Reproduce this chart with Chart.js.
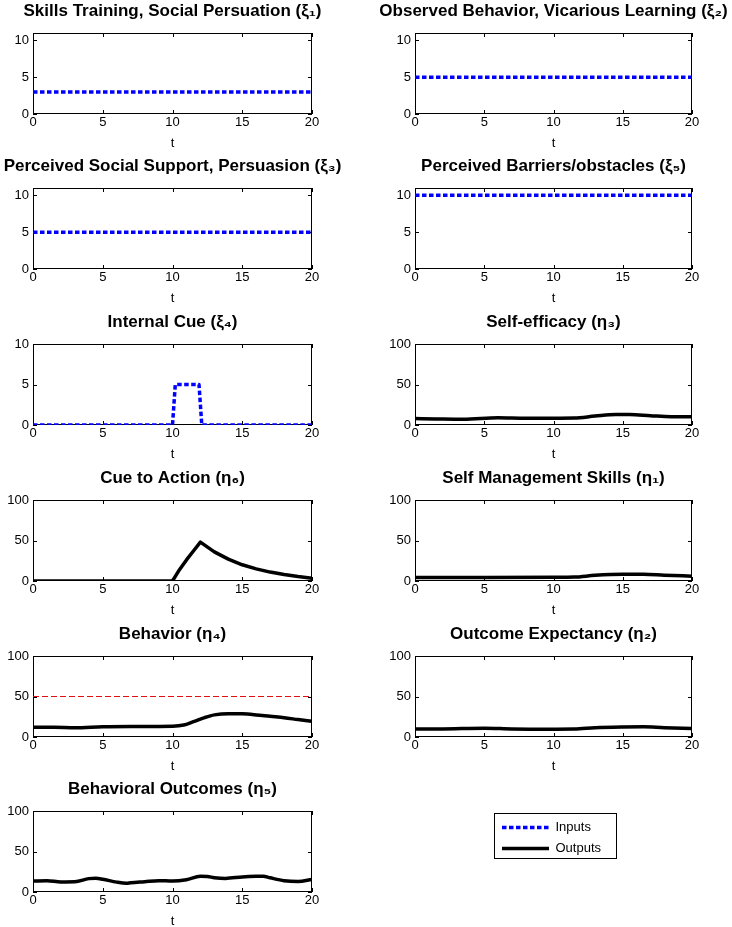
<!DOCTYPE html>
<html><head><meta charset="utf-8">
<script src="https://cdn.jsdelivr.net/npm/chart.js@4.4.1/dist/chart.umd.min.js"></script>
<style>
html,body{margin:0;padding:0;background:#fff;width:732px;height:927px;overflow:hidden;position:relative;}
canvas{position:absolute;}
</style></head><body>
<script>
// ---------- tick labels ----------
const xTicks = [0, 5, 10, 15, 20];
const yTicksInput = [0, 5, 10];
const yTicksOutput = [0, 50, 100];

// ---------- inputs (xi) ----------
const tConst = [0, 20];
const xi1 = [3, 3];
const xi2 = [5, 5];
const xi3 = [5, 5];
const xi5 = [10, 10];
const tXi4 = [0, 10, 10.2, 11.9, 12.1, 20];
const xi4 = [0, 0, 5, 5, 0, 0];

// ---------- outputs (eta) ----------
const tEta3 = [0, 1.5, 3.5, 6, 8, 10, 11.5, 13, 14.5, 15.5, 17, 18.5, 20];
const eta3 = [8, 7.5, 7, 9, 8.3, 8.3, 8.5, 11, 13, 13, 11.5, 10.2, 10.2];

const tEta6 = [0, 10, 10.5, 11, 11.5, 12, 13, 14, 15, 16, 17, 18, 19, 20];
const eta6 = [0, 0, 14, 26, 37, 48, 36, 27, 20, 15, 11, 8, 5.5, 3.5];

const tEta1 = [0, 5, 10, 11.5, 13, 15, 16.5, 18, 20];
const eta1 = [4.2, 4.2, 4.5, 4.8, 7, 8.3, 8.3, 7.2, 6];

const tEta4 = [0, 1.5, 3, 5, 7, 10, 10.8, 11.5, 12.3, 13, 14, 15, 16, 17, 18, 19, 20];
const eta4 = [12, 12, 11.3, 12.6, 13, 13.4, 14.8, 19, 24, 27.3, 28.8, 28.6, 27.3, 25.5, 23.8, 21.5, 19.3];
const tRef = [0, 20];
const ref50 = [50, 50];

const tEta2 = [0, 2, 5, 7, 10, 11.5, 13, 15, 16.5, 18, 20];
const eta2 = [9.9, 10, 10.9, 10, 9.7, 9.8, 11.5, 12.4, 12.6, 11.5, 10.6];

const tEta5 = [0, 1, 2, 3, 4, 4.5, 5, 6, 6.7, 7, 8, 9, 10, 11, 12, 12.5, 13, 13.8, 15, 16, 16.5, 17, 18, 19, 20];
const eta5 = [13.5, 14, 12.5, 12.7, 16.5, 17, 15.8, 12.2, 10.8, 11.4, 12.7, 14, 13.5, 15.2, 19.4, 19.2, 17.7, 16.8, 18.6, 19.4, 19.5, 17.5, 14, 13, 15.6];

// ---------- legend ----------
const legendLabels = ['Inputs', 'Outputs'];

// ---------- styles ----------
const INPUT_STYLE = {borderColor: '#0000ff', borderWidth: 3.5, borderDash: [4.5, 2.5], tension: 0};
const OUTPUT_STYLE = {borderColor: '#000000', borderWidth: 3.5, borderDash: [], cubicInterpolationMode: 'monotone'};
const REF_STYLE = {borderColor: '#e01010', borderWidth: 1, borderDash: [6, 3], tension: 0};

function series(ts, vs, style) {
  return Object.assign({
    data: ts.map((x, i) => ({x: x, y: vs[i]})),
    pointRadius: 0, fill: false, borderCapStyle: 'butt', borderJoinStyle: 'round'
  }, style);
}

const COLX = [33, 415];
const COLW = [279, 277];
const ROWY = [33, 188, 344, 500, 656, 811];
const PLOT_H = 81;
const AXW = 40, TOPH = 36, BOTH = 44;

const panels = [
  {r: 0, c: 0, title: 'Skills Training, Social Persuation (ξ₁)', yMax: 11, yTicks: yTicksInput, ds: [series(tConst, xi1, INPUT_STYLE)]},
  {r: 0, c: 1, title: 'Observed Behavior, Vicarious Learning (ξ₂)', yMax: 11, yTicks: yTicksInput, ds: [series(tConst, xi2, INPUT_STYLE)]},
  {r: 1, c: 0, title: 'Perceived Social Support, Persuasion (ξ₃)', yMax: 11, yTicks: yTicksInput, ds: [series(tConst, xi3, INPUT_STYLE)]},
  {r: 1, c: 1, title: 'Perceived Barriers/obstacles (ξ₅)', yMax: 11, yTicks: yTicksInput, ds: [series(tConst, xi5, INPUT_STYLE)]},
  {r: 2, c: 0, title: 'Internal Cue (ξ₄)', yMax: 10, yTicks: yTicksInput, ds: [series(tXi4, xi4, INPUT_STYLE)]},
  {r: 2, c: 1, title: 'Self-efficacy (η₃)', yMax: 100, yTicks: yTicksOutput, ds: [series(tEta3, eta3, OUTPUT_STYLE)]},
  {r: 3, c: 0, title: 'Cue to Action (η₆)', yMax: 100, yTicks: yTicksOutput, ds: [series(tEta6, eta6, Object.assign({}, OUTPUT_STYLE, {cubicInterpolationMode: 'default', tension: 0}))]},
  {r: 3, c: 1, title: 'Self Management Skills (η₁)', yMax: 100, yTicks: yTicksOutput, ds: [series(tEta1, eta1, OUTPUT_STYLE)]},
  {r: 4, c: 0, title: 'Behavior (η₄)', yMax: 100, yTicks: yTicksOutput, ds: [series(tRef, ref50, REF_STYLE), series(tEta4, eta4, OUTPUT_STYLE)]},
  {r: 4, c: 1, title: 'Outcome Expectancy (η₂)', yMax: 100, yTicks: yTicksOutput, ds: [series(tEta2, eta2, OUTPUT_STYLE)]},
  {r: 5, c: 0, title: 'Behavioral Outcomes (η₅)', yMax: 100, yTicks: yTicksOutput, ds: [series(tEta5, eta5, OUTPUT_STYLE)]}
];

Chart.defaults.font.family = "'Liberation Sans', Arial, Helvetica, sans-serif";
Chart.defaults.color = '#000';

const axesBox = {
  id: 'axesBox',
  beforeDatasetsDraw(chart) {
    const {ctx, chartArea: a, scales} = chart;
    ctx.save();
    ctx.strokeStyle = '#000';
    ctx.lineWidth = 1;
    ctx.setLineDash([]);
    ctx.strokeRect(a.left + 0.5, a.top + 0.5, a.width - 1, a.height - 1);
    ctx.beginPath();
    scales.x.ticks.forEach(tk => {
      const px = Math.round(scales.x.getPixelForValue(tk.value)) + 0.5;
      ctx.moveTo(px, a.bottom); ctx.lineTo(px, a.bottom - 4);
      ctx.moveTo(px, a.top); ctx.lineTo(px, a.top + 4);
    });
    scales.y.ticks.forEach(tk => {
      const py = Math.round(scales.y.getPixelForValue(tk.value)) + 0.5;
      ctx.moveTo(a.left, py); ctx.lineTo(a.left + 4, py);
      ctx.moveTo(a.right, py); ctx.lineTo(a.right - 4, py);
    });
    ctx.stroke();
    ctx.restore();
  }
};

panels.forEach(p => {
  const cv = document.createElement('canvas');
  const w = COLW[p.c] + 2 * AXW;
  const h = TOPH + PLOT_H + BOTH;
  cv.width = w; cv.height = h;
  cv.style.left = (COLX[p.c] - AXW) + 'px';
  cv.style.top = (ROWY[p.r] - TOPH) + 'px';
  document.body.appendChild(cv);
  new Chart(cv, {
    type: 'line',
    data: {datasets: p.ds},
    options: {
      responsive: false, animation: false, devicePixelRatio: 1,
      layout: {padding: 0},
      plugins: {
        legend: {display: false},
        tooltip: {enabled: false},
        title: {display: true, text: p.title, color: '#000', font: {size: 17, weight: 'bold'}, padding: {top: 3.8, bottom: 11.8}}
      },
      scales: {
        x: {
          type: 'linear', min: 0, max: 20,
          grid: {display: false, drawTicks: false}, border: {display: false},
          ticks: {padding: 1, color: '#000', font: {size: 13}, maxRotation: 0},
          afterBuildTicks: s => { s.ticks = xTicks.map(v => ({value: v})); },
          afterFit: s => { s.height = BOTH; },
          title: {display: true, text: 't', color: '#000', font: {size: 13}, padding: {top: 0, bottom: 7}}
        },
        y: {
          type: 'linear', min: 0, max: p.yMax,
          grid: {display: false, drawTicks: false}, border: {display: false},
          ticks: {padding: 4, color: '#000', font: {size: 13}},
          afterBuildTicks: s => { s.ticks = p.yTicks.map(v => ({value: v})); },
          afterFit: s => { s.width = AXW; }
        },
        yPad: {
          axis: 'y', position: 'right', display: true,
          grid: {display: false, drawTicks: false}, border: {display: false},
          ticks: {display: false},
          afterFit: s => { s.width = AXW; }
        }
      }
    },
    plugins: [axesBox]
  });
});

// ---------- legend ----------
const legendDatasets = [
  Object.assign({label: legendLabels[0], data: []}, INPUT_STYLE),
  Object.assign({label: legendLabels[1], data: []}, OUTPUT_STYLE)
];
const legendBorder = {
  id: 'legendBorder',
  afterDraw(chart) {
    const ctx = chart.ctx;
    ctx.save();
    ctx.strokeStyle = '#000'; ctx.lineWidth = 1; ctx.setLineDash([]);
    ctx.strokeRect(0.5, 0.5, 122, 45);
    ctx.restore();
  }
};
const lc = document.createElement('canvas');
lc.width = 123; lc.height = 100;
lc.style.left = '494px'; lc.style.top = '813px';
document.body.appendChild(lc);
new Chart(lc, {
  type: 'line',
  data: {datasets: legendDatasets},
  options: {
    responsive: false, animation: false, devicePixelRatio: 1,
    layout: {padding: 0},
    scales: {x: {display: false}, y: {display: false}},
    plugins: {
      tooltip: {enabled: false},
      legend: {display: true, position: 'top', align: 'start',
        labels: {
          usePointStyle: true, pointStyle: 'line', pointStyleWidth: 47, boxWidth: 47, boxHeight: 13,
          padding: 8, color: '#000', font: {size: 13},
          generateLabels: chart => chart.data.datasets.map((ds, i) => ({
            text: ds.label, datasetIndex: i, hidden: false,
            strokeStyle: ds.borderColor, fillStyle: ds.borderColor,
            lineWidth: ds.borderWidth, lineDash: ds.borderDash, lineCap: 'butt',
            pointStyle: 'line', fontColor: '#000'
          }))
        }}
    }
  },
  plugins: [legendBorder]
});
</script>
</body></html>
